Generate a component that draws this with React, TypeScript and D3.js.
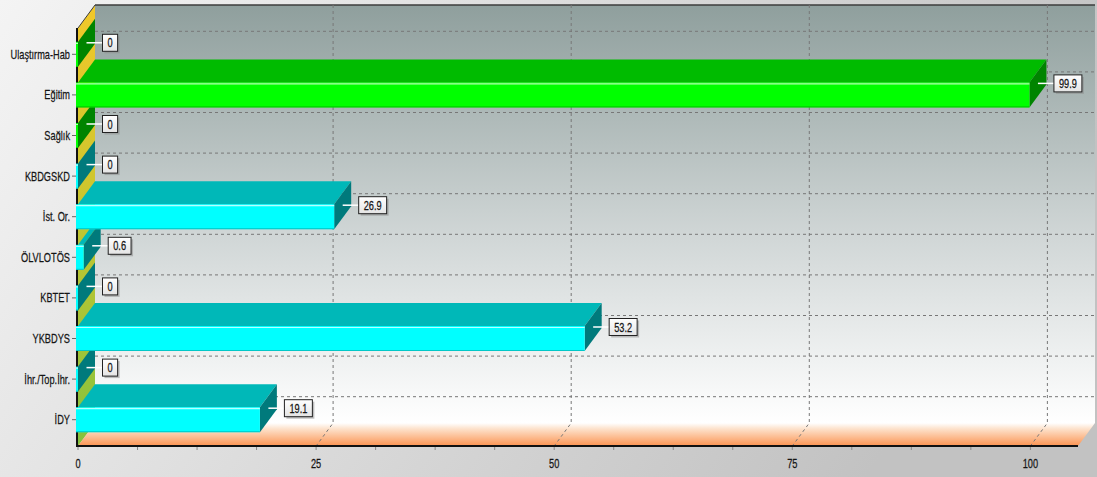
import React from "react";
import * as d3 from "d3";

// Indicator names (top to bottom) and their values
const categories = [
  "Ulaştırma-Hab",
  "Eğitim",
  "Sağlık",
  "KBDGSKD",
  "İst. Or.",
  "ÖLVLOTÖS",
  "KBTET",
  "YKBDYS",
  "İhr./Top.İhr.",
  "İDY",
];
const values = [0, 99.9, 0, 0, 26.9, 0.6, 0, 53.2, 0, 19.1];
const xTickValues = [0, 25, 50, 75, 100];
// colour family of each bar
const barFamily = ["green", "green", "green", "cyan", "cyan", "cyan", "cyan", "cyan", "cyan", "cyan"];

const W = 1097;
const H = 477;
const DX = 17; // depth offset (right)
const DY = 23; // depth offset (up)
const FRONT_LEFT = 78;
const FRONT_RIGHT = 1078;
const FRONT_BOTTOM = 446;
const WALL_TOP = 5;
const BAR_H = 25;
const COND = 0.71; // horizontal squeeze of the narrow font
const FS = 13;
const FONT = "'Liberation Sans', Arial, sans-serif";

const palette: Record<string, { front: string; hi: string; edge: string; top: string; side: string }> = {
  green: { front: "#00ff00", hi: "#b4ffb4", edge: "#00c400", top: "#00bb00", side: "#008400" },
  cyan: { front: "#00ffff", hi: "#b8ffff", edge: "#00c8c8", top: "#00b8b8", side: "#007a7c" },
};

const x = d3.scaleLinear().domain([0, 105]).range([FRONT_LEFT, FRONT_RIGHT]);
const y = d3.scaleBand<string>().domain(categories).range([34, 440]).padding(0);

function Cond({ x: tx, y: ty, anchor, size, fill = "#151515", children }: any) {
  return (
    <text
      transform={`translate(${tx},${ty}) scale(${COND},1)`}
      textAnchor={anchor}
      fontSize={size}
      fontFamily={FONT}
      fill={fill}
      stroke={fill}
      strokeWidth={0.25}
    >
      {children}
    </text>
  );
}

function textWidth(s: string, size: number) {
  let w = 0;
  for (const ch of s) w += ch === "." ? 0.278 : 0.556;
  return w * size * COND;
}

const fmt = (v: number) => (Number.isInteger(v) ? String(v) : v.toFixed(1));

export default function App() {
  const wallBottom = FRONT_BOTTOM - DY;
  const wallLeft = FRONT_LEFT + DX;
  const wallRight = FRONT_RIGHT + DX;
  const frontTop = WALL_TOP + DY;
  const center = (c: string) => (y(c) as number) + y.bandwidth() / 2;

  const minorTicks = d3.range(0, 105.01, 6.25);

  const order = categories.map((_, i) => i).reverse();

  return (
    <div style={{ position: "absolute", left: 0, top: 0 }}>
      <svg width={W} height={H} style={{ display: "block" }}>
        <defs>
          <linearGradient id="bg" x1="0" y1="0" x2="1" y2="0.3">
            <stop offset="0" stopColor="#f4f4f4" />
            <stop offset="1" stopColor="#c2c2c2" />
          </linearGradient>
          <linearGradient id="wall" x1="0" y1="0" x2="0" y2="1">
            <stop offset="0" stopColor="#8f9f9d" />
            <stop offset="0.55" stopColor="#d0d6d6" />
            <stop offset="1" stopColor="#ffffff" />
          </linearGradient>
          <linearGradient id="leftwall" x1="0" y1="0" x2="0" y2="1">
            <stop offset="0" stopColor="#f2c82a" />
            <stop offset="0.4" stopColor="#cfc62e" />
            <stop offset="1" stopColor="#84c23e" />
          </linearGradient>
          <linearGradient id="floor" x1="0" y1="0" x2="0" y2="1">
            <stop offset="0" stopColor="#ffffff" />
            <stop offset="0.25" stopColor="#fde2cc" />
            <stop offset="1" stopColor="#fb9452" />
          </linearGradient>
          <linearGradient id="box" x1="0" y1="0" x2="0" y2="1">
            <stop offset="0" stopColor="#ffffff" />
            <stop offset="1" stopColor="#e4e4e4" />
          </linearGradient>
        </defs>

        <rect x={0} y={0} width={W} height={H} fill="url(#bg)" />

        {/* back wall */}
        <rect x={wallLeft} y={WALL_TOP} width={wallRight - wallLeft} height={wallBottom - WALL_TOP} fill="url(#wall)" />
        {/* left wall */}
        <polygon
          points={`${FRONT_LEFT},${frontTop} ${wallLeft},${WALL_TOP} ${wallLeft},${wallBottom} ${FRONT_LEFT},${FRONT_BOTTOM}`}
          fill="url(#leftwall)"
        />
        {/* floor */}
        <polygon
          points={`${FRONT_LEFT},${FRONT_BOTTOM} ${wallLeft},${wallBottom} ${wallRight},${wallBottom} ${FRONT_RIGHT},${FRONT_BOTTOM}`}
          fill="url(#floor)"
        />
        {/* wall edges */}
        <line x1={wallLeft} y1={WALL_TOP} x2={wallRight} y2={WALL_TOP} stroke="#3c3c3c" strokeWidth={1.5} />
        <line x1={FRONT_LEFT} y1={frontTop} x2={wallLeft} y2={WALL_TOP} stroke="#3c3c3c" strokeWidth={1} />

        {/* grid lines */}
        {categories.map((c) => (
          <line
            key={"hg" + c}
            x1={wallLeft}
            x2={wallRight}
            y1={center(c) - DY}
            y2={center(c) - DY}
            stroke="#777"
            strokeDasharray="3,3"
            strokeWidth={1}
          />
        ))}
        {xTickValues
          .filter((t) => t > 0)
          .map((t) => (
            <path
              key={"vg" + t}
              d={`M${x(t) + DX},${WALL_TOP} V${wallBottom} L${x(t)},${FRONT_BOTTOM}`}
              fill="none"
              stroke="#777"
              strokeDasharray="3,3"
              strokeWidth={1}
            />
          ))}

        {/* left axis line */}
        <line x1={FRONT_LEFT - 1} y1={frontTop} x2={FRONT_LEFT - 1} y2={FRONT_BOTTOM} stroke="#111" strokeWidth={2} />

        {/* bars, drawn bottom-up so upper front faces cover lower top faces */}
        {order.map((i) => {
          const c = categories[i];
          const v = values[i];
          const p = palette[barFamily[i]];
          const cy = center(c);
          const yT = cy - BAR_H / 2;
          const yB = cy + BAR_H / 2;
          const x0 = x(0);
          const x1 = x(v);
          return (
            <g key={"bar" + c}>
              <polygon
                points={`${x0},${yT} ${x0 + DX},${yT - DY} ${x1 + DX},${yT - DY} ${x1},${yT}`}
                fill={p.top}
              />
              <polygon
                points={`${x1},${yT} ${x1 + DX},${yT - DY} ${x1 + DX},${yB - DY} ${x1},${yB}`}
                fill={p.side}
              />
              <rect x={x0 - 2} y={yT} width={x1 - x0 + 2} height={BAR_H} fill={p.front} />
              <line x1={x0 - 2} x2={x1} y1={yT + 1.5} y2={yT + 1.5} stroke={p.hi} strokeWidth={1.2} />
              <line x1={x0 - 2} x2={x1} y1={yB - 0.5} y2={yB - 0.5} stroke={p.edge} strokeWidth={1} />
            </g>
          );
        })}

        {/* bottom axis */}
        <line x1={FRONT_LEFT - 2} y1={FRONT_BOTTOM} x2={FRONT_RIGHT} y2={FRONT_BOTTOM} stroke="#111" strokeWidth={2} />
        {minorTicks.map((t) => (
          <line key={"mt" + t} x1={x(t)} x2={x(t)} y1={FRONT_BOTTOM + 1} y2={FRONT_BOTTOM + 4} stroke="#888" strokeWidth={1} />
        ))}
        {xTickValues.map((t) => (
          <Cond key={"xl" + t} x={x(t)} y={FRONT_BOTTOM + 22} anchor="middle" size={FS}>
            {String(t)}
          </Cond>
        ))}

        {/* category labels */}
        {categories.map((c) => (
          <g key={"yl" + c}>
            <line x1={72} x2={76} y1={center(c)} y2={center(c)} stroke="#666" strokeWidth={1} />
            <Cond x={70} y={center(c) + 4.5} anchor="end" size={FS}>
              {c}
            </Cond>
          </g>
        ))}

        {/* value callouts */}
        {categories.map((c, i) => {
          const v = values[i];
          const label = fmt(v);
          const lx = x(v) + DX / 2;
          const ly = center(c) - DY / 2;
          const bx = lx + 16;
          const bw = textWidth(label, FS) + 10;
          const bh = 17;
          return (
            <g key={"cl" + c}>
              <line x1={lx} x2={bx} y1={ly} y2={ly} stroke="#ffffff" strokeWidth={1.5} />
              <rect x={bx + 2} y={ly - bh / 2 + 2} width={bw} height={bh} fill="#8c8c8c" opacity={0.55} />
              <rect x={bx} y={ly - bh / 2} width={bw} height={bh} fill="url(#box)" stroke="#222" strokeWidth={1} />
              <Cond x={bx + bw / 2} y={ly + 4.5} anchor="middle" size={FS}>
                {label}
              </Cond>
            </g>
          );
        })}
      </svg>
    </div>
  );
}
